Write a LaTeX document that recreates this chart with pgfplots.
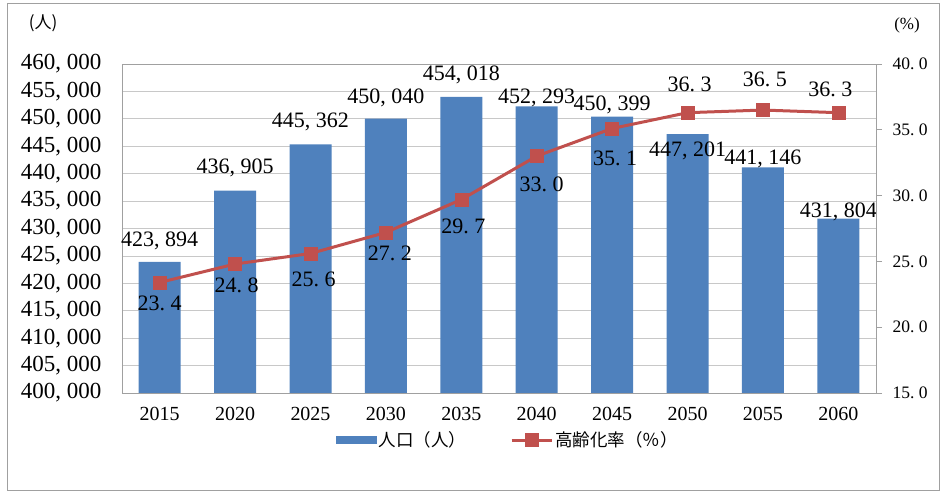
\documentclass[border=0pt]{standalone}
\usepackage{fontspec}
\setmainfont{Liberation Serif}
\newfontfamily\cjk{Noto Sans CJK JP}
\usepackage{pgfplots}
\usepackage{pgfplotstable}
\pgfplotsset{compat=1.18}
\protected\def\C{\makebox[0.5em][l]{,}}
\protected\def\Pd{\makebox[0.5em][l]{.}}
\definecolor{barblue}{HTML}{4F81BD}
\definecolor{linered}{HTML}{C0504D}
\definecolor{gridgray}{HTML}{C8C8C8}
\definecolor{axgray}{HTML}{A0A0A0}

\pgfplotstableread{
x pop plab pdy rate rlab rdy rdx
0 423894 423\C894 21 23.4 23\Pd4 -21 0
1 436905 436\C905 22.5 24.8 24\Pd8 -21.5 1.5
2 445362 445\C362 22.5 25.6 25\Pd6 -26 3
3 450040 450\C040 21 27.2 27\Pd2 -20.5 4
4 454018 454\C018 22 29.7 29\Pd7 -27 2
5 452293 452\C293 8.5 33.0 33\Pd0 -28 5
6 450399 450\C399 12 35.1 35\Pd1 -30 3
7 447201 447\C201 -17 36.3 36\Pd3 28.5 2
8 441146 441\C146 8 36.5 36\Pd5 30.5 2
9 431804 431\C804 7 36.3 36\Pd3 23 -8
}\data

\begin{document}
\begin{tikzpicture}[x=1pt,y=1pt]
\useasboundingbox (0,0) rectangle (946,492);
\draw[axgray, line width=0.8pt] (7,2) rectangle (939,489);
\node[font=\cjk\fontsize{17}{19}\selectfont] at (43,468.5) {(人)};
\node[font=\fontsize{17}{19}\selectfont] at (907,467) {(\%)};
\begin{axis}[
  at={(122pt,99pt)}, anchor=south west,
  scale only axis, width=754pt, height=329pt,
  xmin=-0.5, xmax=9.5, ymin=400000, ymax=460000,
  ytick={400000,405000,...,460000},
  yticklabels={400\C000,405\C000,410\C000,415\C000,420\C000,425\C000,430\C000,435\C000,440\C000,445\C000,450\C000,455\C000,460\C000},
  xtick={0,...,9},
  xticklabels={2015,2020,2025,2030,2035,2040,2045,2050,2055,2060},
  scaled y ticks=false,
  ymajorgrids, grid style={gridgray, line width=0.8pt},
  axis line style={axgray, line width=0.8pt},
  major tick length=0pt,
  yticklabel style={font=\fontsize{23}{25}\selectfont, xshift=-17pt},
  xticklabel style={font=\fontsize{20}{22}\selectfont, yshift=-11pt},
  clip=false,
]
\addplot[ybar, bar width=42pt, bar shift=0pt, fill=barblue, draw=none,
  point meta=explicit symbolic, nodes near coords,
  visualization depends on={\thisrow{pdy}\as\pdy},
  nodes near coords style={anchor=center, yshift=\pdy, text=black, font=\fontsize{22}{24}\selectfont}]
  table[x=x, y=pop, meta=plab]{\data};
\end{axis}
\begin{axis}[
  at={(122pt,99pt)}, anchor=south west,
  scale only axis, width=754pt, height=329pt,
  xmin=-0.5, xmax=9.5, ymin=15, ymax=40,
  axis y line*=right, axis x line=none,
  ytick={15,20,...,40},
  yticklabels={15\Pd0,20\Pd0,25\Pd0,30\Pd0,35\Pd0,40\Pd0},
  axis line style={axgray, line width=0.8pt},
  ytick style={axgray, line width=0.8pt},
  tick align=outside, major tick length=6pt,
  yticklabel style={font=\fontsize{17.5}{19}\selectfont, xshift=7pt},
  clip=false,
  legend style={at={(0.512,-0.143)}, anchor=center, draw=none, fill=none,
    legend columns=2, font=\cjk\fontsize{17.5}{19}\selectfont,
    /tikz/every even column/.append style={column sep=42pt}},
  legend cell align=left,
]
\addlegendimage{legend image code/.code={\fill[barblue] (0pt,-3.5pt) rectangle (40pt,3.5pt);}}
\addlegendentry{人口（人）}
\addplot[linered, line width=3pt, mark=square*, mark size=6.5pt,
  mark options={solid, fill=linered, draw=linered, line width=0.5pt},
  point meta=explicit symbolic, nodes near coords,
  visualization depends on={\thisrow{rdy}\as\rdy},
  visualization depends on={\thisrow{rdx}\as\rdx},
  nodes near coords style={anchor=center, yshift=\rdy, xshift=\rdx, text=black, font=\fontsize{22}{24}\selectfont},
  legend image code/.code={\draw[linered, line width=3pt] (0pt,0pt) -- (40pt,0pt); \fill[linered] (14.5pt,-5.5pt) rectangle (25.5pt,5.5pt);}]
  table[x=x, y=rate, meta=rlab]{\data};
\addlegendentry{高齢化率（％）}
\end{axis}
\end{tikzpicture}
\end{document}
